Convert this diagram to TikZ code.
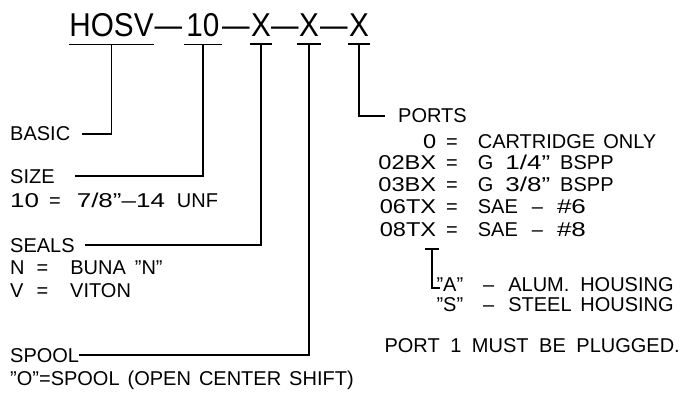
\documentclass[tikz,border=0pt]{standalone}
\usepackage{fontspec}
\setmainfont{Liberation Sans}[WordSpace=1.9]
\newcommand{\widetxt}[1]{\scalebox{1.3}[1]{#1}}
\newcommand{\codetxt}[1]{\makebox[64pt][r]{\scalebox{1.18}[1]{#1}}}
\begin{document}
\begin{tikzpicture}[x=1pt,y=-1pt,
  title/.style={font=\fontsize{33}{33}\selectfont, inner xsep=0pt, inner ysep=7pt, anchor=base},
  tdash/.style={font=\fontsize{33}{33}\selectfont, inner sep=0pt, anchor=base},
  lbl/.style={font=\fontsize{20}{20}\selectfont, inner sep=0pt, anchor=base west},
  conn/.style={line width=1.8pt},
  uline/.style={line width=1.8pt}]
\useasboundingbox[fill=white] (0,0) rectangle (681,396);
% part number
\node[title, minimum width=83pt] (hosv) at (111.5,37) {\scalebox{0.9}[1]{HOSV}};
\node[tdash] (d1) at (168.5,37) {\scalebox{1.5}[1]{–}};
\node[title, minimum width=38pt] (ten) at (203,37) {\scalebox{0.9}[1]{10}};
\node[tdash] (d2) at (236,37) {\scalebox{1.5}[1]{–}};
\node[title, minimum width=22pt] (xa) at (261,37) {\scalebox{0.9}[1]{X}};
\node[tdash] (d3) at (285,37) {\scalebox{1.5}[1]{–}};
\node[title, minimum width=24pt] (xb) at (309,37) {\scalebox{0.9}[1]{X}};
\node[tdash] (d4) at (334,37) {\scalebox{1.5}[1]{–}};
\node[title, minimum width=22pt] (xc) at (359,37) {\scalebox{0.9}[1]{X}};
\foreach \n in {hosv,ten,xa,xb,xc}
  \draw[uline] (\n.south west) -- (\n.south east);
% left labels
\node[lbl] (basic) at (10,141) {BASIC\kern12pt};
\node[lbl] (size) at (10,183) {SIZE\kern20pt};
\node[lbl] (sizev) at (10,207) {\widetxt{10}\hspace{10pt}=\hspace{16pt}\widetxt{7/8”–14}\hspace{12pt}UNF};
\node[lbl] (seals) at (10,252) {SEALS\kern10pt};
\node[lbl] (sealn) at (10,274) {N\hspace{12pt}=\hspace{22pt}BUNA\hspace{9pt}”N”};
\node[lbl] (sealv) at (10,297) {V\hspace{13pt}=\hspace{22pt}VITON};
\node[lbl] (spool) at (10,362) {SPOOL};
\node[lbl] (spoolv) at (10,385) {”O”=SPOOL\hspace{8pt}(OPEN\hspace{8pt}CENTER\hspace{8pt}SHIFT)};
% right labels
\node[lbl] (ports) at (398,123) {PORTS};
\node[lbl] (p0) at (372,149) {\codetxt{0}\hspace{10pt}=\hspace{20pt}CARTRIDGE\hspace{8pt}ONLY};
\node[lbl] (p1) at (372,169) {\codetxt{02BX}\hspace{10pt}=\hspace{20pt}G\hspace{12pt}\widetxt{1/4”}\hspace{10pt}BSPP};
\node[lbl] (p2) at (372,191) {\codetxt{03BX}\hspace{10pt}=\hspace{20pt}G\hspace{12pt}\widetxt{3/8”}\hspace{10pt}BSPP};
\node[lbl] (p3) at (372,213) {\codetxt{06TX}\hspace{10pt}=\hspace{20pt}SAE\hspace{14pt}–\hspace{14pt}\widetxt{\#6}};
\node[lbl] (p4) at (372,236) {\codetxt{08TX}\hspace{10pt}=\hspace{20pt}SAE\hspace{14pt}–\hspace{14pt}\widetxt{\#8}};
\node[lbl] (alum) at (440,291) {\makebox[23pt][r]{”A”}\hspace{20pt}–\hspace{14pt}\makebox[72pt][l]{ALUM.}HOUSING};
\node[lbl] (steel) at (440,311) {\makebox[23pt][r]{”S”}\hspace{20pt}–\hspace{14pt}\makebox[72pt][l]{STEEL}HOUSING};
\node[lbl, anchor=base east] (plug) at (680,352) {PORT 1 MUST BE PLUGGED.};
% connectors
\draw[conn] (hosv.south) |- (basic.east);
\draw[conn] (ten.south) |- (size.east);
\draw[conn] (xa.south) |- (seals.east);
\draw[conn] (xb.south) |- (spool.east);
\draw[conn] (xc.south) |- ([xshift=-13pt]ports.west);
% housing bracket
\coordinate (bt) at (432,249);
\draw[conn] ([xshift=-7pt]bt) -- ([xshift=7pt]bt);
\draw[conn] (bt) |- ([yshift=3pt]alum.south west);
\end{tikzpicture}
\end{document}
